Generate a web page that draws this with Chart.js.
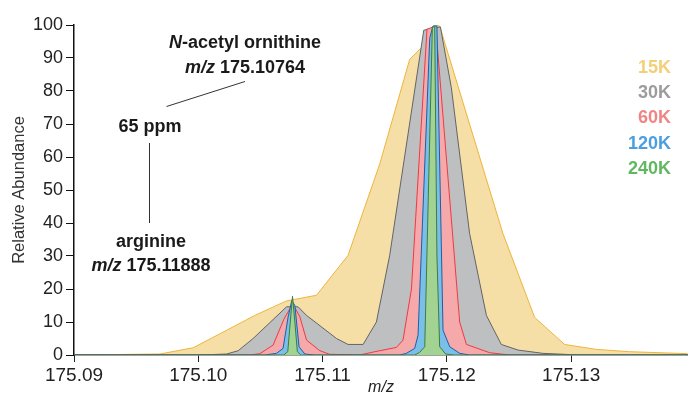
<!DOCTYPE html>
<html>
<head>
<meta charset="utf-8">
<script src="https://cdn.jsdelivr.net/npm/chart.js@4.4.1/dist/chart.umd.min.js"></script>
<style>
html,body{margin:0;padding:0;background:#fff;}
#wrap{width:688px;height:393px;position:relative;}
</style>
</head>
<body>
<div id="wrap"><canvas id="c"></canvas></div>
<script>
// ---- data ----
const seriesNames = ["15K", "30K", "60K", "120K", "240K"];

const mz15K = [175.09000, 175.09691, 175.09959, 175.10228, 175.10455, 175.10710, 175.10951, 175.11205, 175.11460, 175.11701, 175.11795, 175.11910, 175.11942, 175.12451, 175.12706, 175.12947, 175.13202, 175.13469, 175.13936];
const ab15K = [0, 0.3, 2.2, 7.5, 12, 16.4, 18.1, 30.2, 57.9, 89.6, 93.1, 100, 99.7, 36.8, 11.4, 3.2, 1.7, 1.0, 0.4];

const mz30K = [175.09000, 175.10013, 175.10228, 175.10321, 175.10441, 175.10710, 175.10803, 175.10871, 175.11112, 175.11205, 175.11326, 175.11433, 175.11540, 175.11814, 175.11875, 175.11948, 175.12036, 175.12183, 175.12318, 175.12438, 175.12572, 175.12773, 175.13068, 175.13936];
const ab30K = [0, 0, 0.3, 1.3, 5, 14.6, 14.6, 12, 5, 3.2, 3.2, 10, 30.2, 98.4, 99, 99.4, 81, 36.8, 12, 3.2, 1.5, 0.5, 0, 0];

const mz60K = [175.09000, 175.10415, 175.10495, 175.10602, 175.10688, 175.10760, 175.10817, 175.10871, 175.10978, 175.11058, 175.11299, 175.11420, 175.11594, 175.11647, 175.11715, 175.11840, 175.11910, 175.12103, 175.12157, 175.12344, 175.12505, 175.13936];
const ab60K = [0, 0, 0.4, 3, 10.8, 15.5, 11.6, 4.5, 1.3, 0.2, 0, 1, 2.3, 4.5, 20, 98.7, 99.7, 10, 3.2, 0.7, 0, 0];

const mz120K = [175.09000, 175.10535, 175.10629, 175.10682, 175.10723, 175.10752, 175.10777, 175.10811, 175.10857, 175.10937, 175.11621, 175.11674, 175.11741, 175.11768, 175.11862, 175.11888, 175.11920, 175.11969, 175.12023, 175.12103, 175.12183, 175.13936];
const ab120K = [0, 0, 0.5, 2, 11.6, 16.5, 15, 2.5, 0.3, 0, 0, 0.5, 2, 6, 96, 99.7, 99.7, 7.5, 2.5, 0.5, 0, 0];

const mz240K = [175.09000, 175.10688, 175.10720, 175.10740, 175.10758, 175.10777, 175.10797, 175.10825, 175.11741, 175.11781, 175.11822, 175.11883, 175.11902, 175.11920, 175.11942, 175.11990, 175.12060, 175.13936];
const ab240K = [0, 0, 1, 10, 17.8, 10, 1, 0, 0, 0.8, 2.5, 99.2, 99.7, 30, 2.5, 0.3, 0, 0];

const xTicks = [175.09, 175.10, 175.11, 175.12, 175.13];
const yTicks = [0, 10, 20, 30, 40, 50, 60, 70, 80, 90, 100];

// ---- styles ----
const fills   = ["#f6dfa6", "#bebfc1", "#f6a9aa", "#79bfe9", "#a2d393"];
const strokes = ["#eeb43a", "#636466", "#ee3a43", "#1d5fa6", "#3d7d3d"];
const legendColors = ["#f3cf77", "#9c9c9c", "#f08585", "#4a9fe0", "#62b862"];

const mzs = [mz15K, mz30K, mz60K, mz120K, mz240K];
const abs = [ab15K, ab30K, ab60K, ab120K, ab240K];

const datasets = seriesNames.map((name, i) => ({
  label: name,
  data: mzs[i].map((x, k) => ({x: x, y: abs[i][k]})),
  backgroundColor: fills[i],
  borderColor: strokes[i],
  borderWidth: 1,
  pointRadius: 0,
  tension: 0,
  fill: 'origin',
  order: seriesNames.length - i
}));

const SANS = "'Liberation Sans', Arial, sans-serif";

function drawRuns(ctx, runs, cx, cy) {
  let total = 0;
  runs.forEach(r => { ctx.font = r.font; r.w = ctx.measureText(r.t).width; total += r.w; });
  let x = cx - total / 2;
  ctx.textAlign = 'left';
  ctx.textBaseline = 'middle';
  runs.forEach(r => { ctx.font = r.font; ctx.fillText(r.t, x, cy); x += r.w; });
}

const annot = {
  id: 'annot',
  afterDraw(chart) {
    const ctx = chart.ctx;
    ctx.save();
    ctx.fillStyle = '#1a1a1a';
    const B = "bold 18px " + SANS;
    const BI = "italic bold 18px " + SANS;
    drawRuns(ctx, [{t: "N", font: BI}, {t: "-acetyl ornithine", font: B}], 245, 43);
    drawRuns(ctx, [{t: "m/z", font: BI}, {t: " 175.10764", font: B}], 245, 68);
    drawRuns(ctx, [{t: "65 ppm", font: B}], 150, 127);
    drawRuns(ctx, [{t: "arginine", font: B}], 151, 242);
    drawRuns(ctx, [{t: "m/z", font: BI}, {t: " 175.11888", font: B}], 151, 266);
    ctx.strokeStyle = '#333';
    ctx.lineWidth = 1;
    ctx.beginPath();
    ctx.moveTo(166.5, 106.5); ctx.lineTo(245, 81.5);
    ctx.moveTo(149.5, 143); ctx.lineTo(149.5, 223);
    ctx.stroke();
    // legend
    ctx.textAlign = 'right';
    ctx.textBaseline = 'middle';
    ctx.font = B;
    const ly = [68, 93, 118, 144, 169];
    seriesNames.forEach((n, i) => { ctx.fillStyle = legendColors[i]; ctx.fillText(n, 671, ly[i]); });
    ctx.restore();
  }
};

new Chart(document.getElementById('c'), {
  type: 'line',
  data: {datasets: datasets},
  options: {
    responsive: true,
    maintainAspectRatio: false,
    animation: false,
    events: [],
    layout: {padding: {top: 25, right: 0, bottom: 0, left: 0}},
    plugins: {legend: {display: false}, tooltip: {enabled: false}},
    scales: {
      x: {
        type: 'linear',
        min: 175.09,
        max: 175.1394,
        z: 1,
        afterBuildTicks: s => { s.ticks = xTicks.map(v => ({value: v})); },
        afterFit: s => { s.height = 38; },
        border: {display: true, color: '#3a4a3a', width: 1.5},
        grid: {display: true, drawOnChartArea: false, drawTicks: true, tickLength: 7, color: '#222', lineWidth: 1},
        ticks: {
          autoSkip: false, maxRotation: 0, padding: 2,
          color: '#222',
          font: {family: SANS, size: 19},
          callback: v => Number(v).toFixed(2)
        },
        title: {display: true, text: 'm/z', color: '#222',
          font: {family: SANS, size: 16, style: 'italic', lineHeight: 1},
          padding: {top: 0, bottom: -3}}
      },
      y: {
        min: 0, max: 100,
        afterBuildTicks: s => { s.ticks = yTicks.map(v => ({value: v})); },
        afterFit: s => { s.width = 74; },
        border: {display: true, color: '#111', width: 1.5},
        grid: {display: true, drawOnChartArea: false, drawTicks: true, tickLength: 8, color: '#111', lineWidth: 1},
        ticks: {color: '#222', padding: 3, font: {family: SANS, size: 18}},
        title: {display: true, text: 'Relative Abundance', color: '#333',
          font: {family: SANS, size: 16.5, lineHeight: 1.2},
          padding: {top: 10, bottom: 0}}
      }
    }
  },
  plugins: [annot]
});
</script>
</body>
</html>
